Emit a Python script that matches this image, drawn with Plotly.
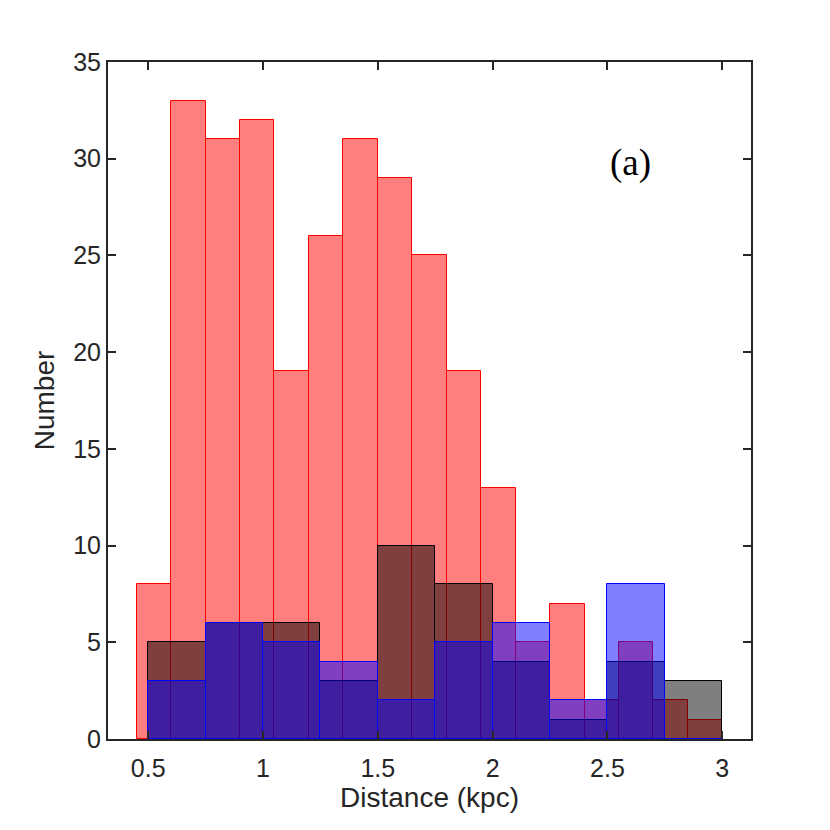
import numpy as np
import plotly.graph_objs as go

# bin edges (kpc) and counts
red_edges = [0.45, 0.60, 0.75, 0.90, 1.05, 1.20, 1.35, 1.50, 1.65,
             1.80, 1.95, 2.10, 2.25, 2.40, 2.55, 2.70, 2.85, 3.00]
red_counts = [8, 33, 31, 32, 19, 26, 31, 29, 25, 19, 13, 5, 7, 2, 5, 2, 1]

group_edges = [0.5, 0.75, 1.0, 1.25, 1.5, 1.75, 2.0, 2.25, 2.5, 2.75, 3.0]
black_counts = [5, 6, 6, 3, 10, 8, 4, 1, 4, 3]
blue_counts = [3, 6, 5, 4, 2, 5, 6, 2, 8, 0]

x_ticks = [0.5, 1, 1.5, 2, 2.5, 3]
x_ticklabels = ['0.5', '1', '1.5', '2', '2.5', '3']
y_ticks = [0, 5, 10, 15, 20, 25, 30, 35]


def hist_bar(edges, counts, fill, edge):
    e = np.array(edges)
    return go.Bar(
        x=(e[:-1] + e[1:]) / 2,
        y=counts,
        width=np.diff(e),
        marker=dict(color=fill, line=dict(color=edge, width=1)),
        showlegend=False,
        hoverinfo='x+y',
    )


data = [
    hist_bar(red_edges, red_counts, 'rgba(255,0,0,0.5)', 'rgb(255,0,0)'),
    hist_bar(group_edges, black_counts, 'rgba(0,0,0,0.5)', 'rgb(0,0,0)'),
    hist_bar(group_edges, blue_counts, 'rgba(0,0,255,0.5)', 'rgb(0,0,255)'),
]

font_family = 'Liberation Sans, Arial, sans-serif'
axis_style = dict(
    showline=True, linecolor='#262626', linewidth=2, mirror='ticks',
    ticks='inside', ticklen=8, tickwidth=1.5, tickcolor='#262626',
    showgrid=False, zeroline=False,
    tickfont=dict(family=font_family, size=25, color='#262626'),
)

layout = go.Layout(
    width=830, height=830,
    margin=dict(l=100, r=87, t=54, b=99),
    paper_bgcolor='white', plot_bgcolor='white',
    barmode='overlay', bargap=0,
    xaxis=dict(
        range=[0.325, 3.125], tickvals=x_ticks, ticktext=x_ticklabels,
        ticklabelstandoff=6,
        title=dict(text='Distance (kpc)', standoff=0,
                   font=dict(family=font_family, size=28, color='#262626')),
        **axis_style,
    ),
    yaxis=dict(
        range=[0, 35], tickvals=y_ticks,
        title=dict(text='Number', standoff=10,
                   font=dict(family=font_family, size=28, color='#262626')),
        **axis_style,
    ),
    annotations=[dict(
        x=2.6, y=29.8, xref='x', yref='y', text='(a)', showarrow=False,
        font=dict(family='Liberation Serif, Times New Roman, serif', size=37, color='black'),
    )],
)

fig = go.Figure(data=data, layout=layout)
fig.write_html("out.html")
